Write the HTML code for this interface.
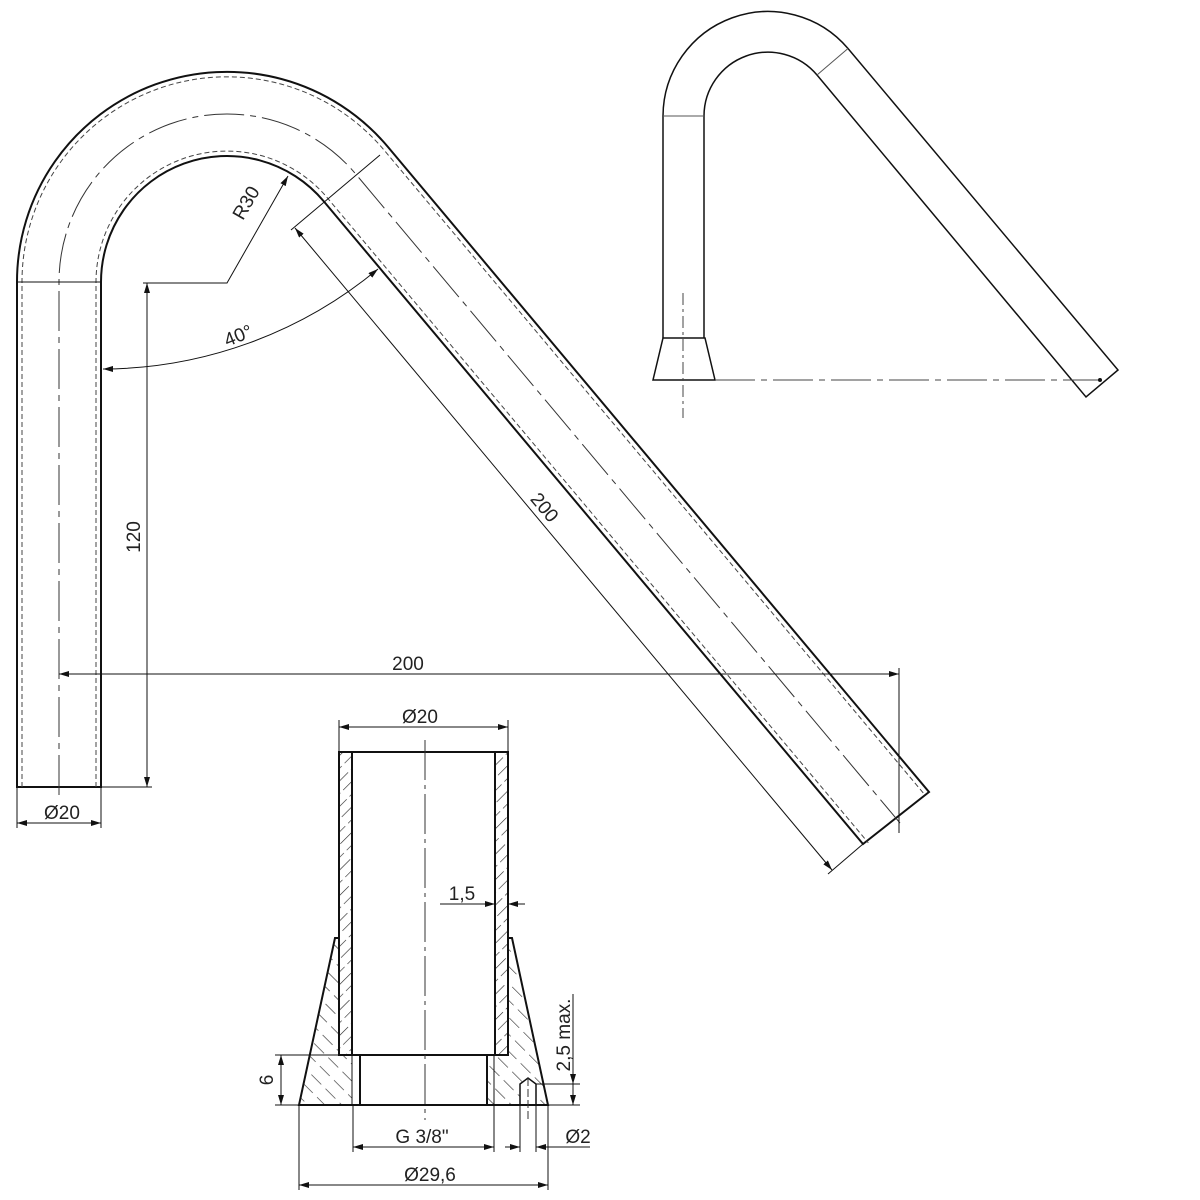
<!DOCTYPE html>
<html><head><meta charset="utf-8"><style>
html,body{margin:0;padding:0;background:#fff}
svg{display:block}
text{font-family:"Liberation Sans",sans-serif;fill:#222}
</style></head><body>
<svg width="1200" height="1200" viewBox="0 0 1200 1200" xmlns="http://www.w3.org/2000/svg">
<defs>
<marker id="a" viewBox="0 0 10 6" refX="10" refY="3" markerWidth="10" markerHeight="6" orient="auto-start-reverse" markerUnits="userSpaceOnUse"><path d="M0,0L10,3L0,6z" fill="#111"/></marker>
<pattern id="h1" width="9" height="40" patternUnits="userSpaceOnUse" patternTransform="rotate(45)"><line x1="0" y1="0" x2="0" y2="40" stroke="#222" stroke-width="1.2" stroke-dasharray="16 4"/></pattern>
<pattern id="h2" width="12" height="40" patternUnits="userSpaceOnUse" patternTransform="rotate(-45)"><line x1="0" y1="0" x2="0" y2="40" stroke="#222" stroke-width="1.2" stroke-dasharray="14 6"/></pattern>
</defs>
<g fill="none" stroke="#111">
<path d="M17,787 L17,282 A210,210 0 0 1 388,147 L929,792 L863,844 L323.5,201 A126,126 0 0 0 101,282 L101,787 Z" stroke-width="2"/>
<g stroke-width="1" stroke-dasharray="5 3" stroke="#444">
<path d="M22,787 L22,282 A205,205 0 0 1 384,150 L925,795"/>
<path d="M96,787 L96,282 A131,131 0 0 1 327.3,197.8 L868.3,842.8"/>
</g>
<path d="M59,795 L59,282 A168,168 0 0 1 355.7,174 L900,823" stroke-width="1" stroke="#333" stroke-dasharray="40 6 6 6"/>
<line x1="17" y1="282" x2="101" y2="282" stroke-width="1"/>
<line x1="101" y1="787" x2="152" y2="787" stroke-width="1"/>
<line x1="147" y1="283" x2="147" y2="787" stroke-width="1" marker-start="url(#a)" marker-end="url(#a)"/>
<polyline points="143,283 227,283 288,176" stroke-width="1" marker-end="url(#a)"/>
<path d="M378,269 A433,433 0 0 1 103,369" stroke-width="1" marker-start="url(#a)" marker-end="url(#a)"/>
<line x1="380" y1="155" x2="291" y2="230" stroke-width="1"/>
<line x1="863" y1="844" x2="828" y2="874" stroke-width="1"/>
<line x1="295" y1="228" x2="832" y2="870" stroke-width="1" marker-start="url(#a)" marker-end="url(#a)"/>
<line x1="899" y1="668" x2="899" y2="833" stroke-width="1"/>
<line x1="59" y1="674" x2="899" y2="674" stroke-width="1" marker-start="url(#a)" marker-end="url(#a)"/>
<line x1="17" y1="787" x2="17" y2="828" stroke-width="1"/>
<line x1="101" y1="787" x2="101" y2="828" stroke-width="1"/>
<line x1="17" y1="823" x2="101" y2="823" stroke-width="1" marker-start="url(#a)" marker-end="url(#a)"/>

<path d="M663,338 L663,116 A105,105 0 0 1 848,48.5 L1118,370 L1086,397 L817,75 A64,64 0 0 0 704,116 L704,338" stroke-width="1.5"/>
<line x1="663" y1="116" x2="704" y2="116" stroke-width="1" stroke="#555"/>
<line x1="848" y1="48.5" x2="817" y2="75" stroke-width="1" stroke="#555"/>
<path d="M663,338 L705,338 L715,380 L653,380 Z" stroke-width="1.5"/>
<line x1="683" y1="293" x2="683" y2="418" stroke-width="1" stroke="#444" stroke-dasharray="12 4 3 4"/>
<line x1="715" y1="380" x2="1100" y2="380" stroke-width="1" stroke="#444" stroke-dasharray="40 6 6 6"/>
<circle cx="1100" cy="380" r="2" fill="#111" stroke="none"/>

<rect x="339" y="752" width="13" height="303" fill="url(#h1)" stroke="none"/>
<rect x="495" y="752" width="13" height="303" fill="url(#h1)" stroke="none"/>
<path d="M335,938 L339,938 L339,1055 L352,1055 L352,1105 L299,1105 Z" fill="url(#h2)" stroke="none"/>
<path d="M510,938 L508,938 L508,1055 L487,1055 L487,1105 L520,1105 L520,1084 L528,1078 L536,1084 L536,1105 L548,1105 Z" fill="url(#h2)" stroke="none"/>
<g stroke-width="2">
<rect x="339" y="752" width="169" height="303"/>
<line x1="352" y1="752" x2="352" y2="1055"/>
<line x1="495" y1="752" x2="495" y2="1055"/>
<path d="M339,938 L335,938 L299,1105 L548,1105 L512,938 L508,938"/>
<line x1="339" y1="1055" x2="508" y2="1055"/>
<line x1="360" y1="1055" x2="360" y2="1105"/>
<line x1="487" y1="1055" x2="487" y2="1105"/>
<path d="M520,1105 L520,1084 L528,1078 L536,1084 L536,1105" stroke-width="1.5"/>
</g>
<line x1="352" y1="1055" x2="352" y2="1105" stroke-width="1"/>
<line x1="494" y1="1055" x2="494" y2="1105" stroke-width="1"/>
<line x1="425" y1="740" x2="425" y2="1120" stroke-width="1" stroke="#333" stroke-dasharray="40 5 4 5"/>
<line x1="528" y1="1078" x2="528" y2="1120" stroke-width="1" stroke="#333" stroke-dasharray="8 3"/>
<g stroke-width="1">
<line x1="339" y1="720" x2="339" y2="752"/><line x1="508" y1="720" x2="508" y2="752"/>
<line x1="339" y1="727" x2="508" y2="727" marker-start="url(#a)" marker-end="url(#a)"/>
<line x1="440" y1="904" x2="495" y2="904" marker-end="url(#a)"/>
<line x1="525" y1="904" x2="508" y2="904" marker-end="url(#a)"/>
<line x1="275" y1="1055" x2="339" y2="1055"/><line x1="275" y1="1105" x2="299" y2="1105"/>
<line x1="281" y1="1055" x2="281" y2="1105" marker-start="url(#a)" marker-end="url(#a)"/>
<line x1="536" y1="1084" x2="580" y2="1084"/><line x1="548" y1="1105" x2="580" y2="1105"/>
<line x1="573" y1="994" x2="573" y2="1084" marker-end="url(#a)"/>
<line x1="573" y1="1105" x2="573" y2="1084" marker-start="url(#a)"/>
<line x1="353" y1="1105" x2="353" y2="1152"/><line x1="494" y1="1105" x2="494" y2="1152"/>
<line x1="353" y1="1147" x2="494" y2="1147" marker-start="url(#a)" marker-end="url(#a)"/>
<line x1="520" y1="1105" x2="520" y2="1152"/><line x1="536" y1="1105" x2="536" y2="1152"/>
<line x1="505" y1="1147" x2="520" y2="1147" marker-end="url(#a)"/>
<line x1="590" y1="1147" x2="536" y2="1147" marker-end="url(#a)"/>
<line x1="299" y1="1105" x2="299" y2="1190"/><line x1="548" y1="1105" x2="548" y2="1190"/>
<line x1="299" y1="1185" x2="548" y2="1185" marker-start="url(#a)" marker-end="url(#a)"/>
</g>
</g>
<g font-size="19">
<text x="255" y="208" transform="rotate(-60 255 208)" text-anchor="middle" dy="-4">R30</text>
<text x="238" y="342" transform="rotate(-22 238 335)" text-anchor="middle">40°</text>
<text x="145" y="537" transform="rotate(-90 145 537)" text-anchor="middle" dy="-5">120</text>
<text x="545" y="514" transform="rotate(50 545 507)" text-anchor="middle">200</text>
<text x="408" y="670" text-anchor="middle">200</text>
<text x="62" y="819" text-anchor="middle">Ø20</text>
<text x="420" y="723" text-anchor="middle">Ø20</text>
<text x="462" y="900" text-anchor="middle">1,5</text>
<text x="273" y="1080" transform="rotate(-90 273 1080)" text-anchor="middle">6</text>
<text x="570" y="1035" transform="rotate(-90 570 1035)" text-anchor="middle">2,5 max.</text>
<text x="422" y="1143" text-anchor="middle">G 3/8"</text>
<text x="578" y="1143" text-anchor="middle">Ø2</text>
<text x="430" y="1181" text-anchor="middle">Ø29,6</text>
</g>
</svg>
</body></html>
